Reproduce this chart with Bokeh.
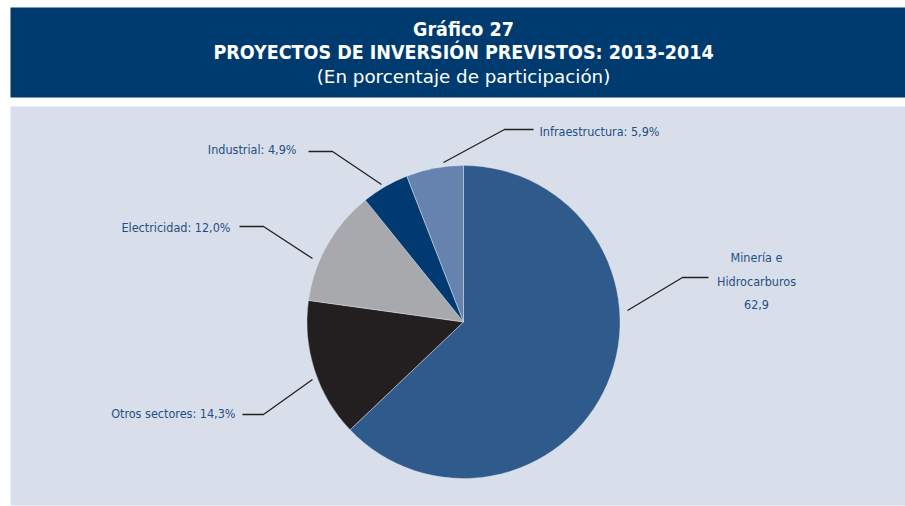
from bokeh.plotting import figure
from bokeh.models import Range1d, ColumnDataSource
from bokeh.core.properties import value
from bokeh.embed import file_html
from bokeh.resources import INLINE
import math

# ---- data ----
sectors = ["Minería e Hidrocarburos", "Otros sectores", "Electricidad", "Industrial", "Infraestructura"]
shares = [62.9, 14.3, 12.0, 4.9, 5.9]
colors = ["#2f5b8c", "#231f20", "#a7a9ac", "#003a70", "#6683b0"]
label_texts = ["Otros sectores: 14,3%", "Electricidad: 12,0%", "Industrial: 4,9%", "Infraestructura: 5,9%"]
title_lines = ["Gráfico 27", "PROYECTOS DE INVERSIÓN PREVISTOS: 2013-2014", "(En porcentaje de participación)"]
minera_lines = ["Minería e", "Hidrocarburos", "62,9"]

W, H = 905, 506
FONT_C = "DejaVu Sans Condensed"
FONT_N = "DejaVu Sans"

def Y(py):
    return 506 - py

p = figure(width=W, height=H, output_backend="svg", toolbar_location=None,
           x_range=Range1d(0, 905), y_range=Range1d(0, 506),
           min_border=0, min_border_left=0, min_border_right=0,
           min_border_top=0, min_border_bottom=0)
p.axis.visible = False
p.grid.visible = False
p.outline_line_color = None
p.background_fill_color = "white"
p.border_fill_color = "white"

# header band and plot background
p.quad(left=10, right=905, top=Y(7), bottom=Y(97), fill_color="#003b6f", line_color=None)
p.quad(left=10, right=905, top=Y(106), bottom=Y(505), fill_color="#d8dfea", line_color=None)

# titles
p.text(x=[463], y=[Y(29)], text=[title_lines[0]], text_align="center", text_baseline="middle",
       text_color="white", text_font=value(FONT_C), text_font_style="bold", text_font_size="19.5px")
p.text(x=[463], y=[Y(52)], text=[title_lines[1]], text_align="center", text_baseline="middle",
       text_color="white", text_font=value(FONT_C), text_font_style="bold", text_font_size="19.5px")
p.text(x=[463], y=[Y(76)], text=[title_lines[2]], text_align="center", text_baseline="middle",
       text_color="white", text_font=value(FONT_N), text_font_size="18.3px")

# pie
total = sum(shares)
starts, ends = [], []
cum = 0.0
for s in shares:
    starts.append(math.pi / 2 - 2 * math.pi * cum / total)
    cum += s
    ends.append(math.pi / 2 - 2 * math.pi * cum / total)
src = ColumnDataSource(dict(start=starts, end=ends, color=colors, sector=sectors))
p.wedge(x=463, y=Y(321.5), radius=156.5, start_angle="start", end_angle="end",
        direction="clock", fill_color="color", line_color=None, source=src)
p.wedge(x=463, y=Y(321.5), radius=156.5, start_angle="start", end_angle="end",
        direction="clock", fill_color=None, line_color="#d8dfea", line_width=0.6,
        line_alpha=0.6, source=src)

# leader lines
leaders = [
    [(242, 414), (263, 414), (312, 379)],   # Otros
    [(239, 226), (263, 226), (312, 258)],   # Electricidad
    [(308, 151), (332, 151), (381, 184)],   # Industrial
    [(533, 129), (504, 129), (443, 162)],   # Infraestructura
    [(708, 277), (682, 277), (627, 310)],   # Minería
]
p.multi_line(xs=[[a[0] for a in l] for l in leaders], ys=[[Y(a[1]) for a in l] for l in leaders],
             line_color="#231f20", line_width=1.3)

# labels
lab_x = [235, 230, 296, 539]
lab_y = [413, 227, 149, 131]
lab_align = ["right", "right", "right", "left"]
p.text(x=lab_x, y=[Y(v) for v in lab_y], text=label_texts, text_align=lab_align, text_baseline="middle",
       text_color="#1f4f86", text_font=value(FONT_C), text_font_size="12.5px")
p.text(x=[756] * 3, y=[Y(257), Y(281), Y(304)], text=minera_lines, text_align="center",
       text_baseline="middle", text_color="#1f4f86", text_font=value(FONT_C), text_font_size="12.5px")

open("out.html", "w").write(file_html(p, INLINE))
